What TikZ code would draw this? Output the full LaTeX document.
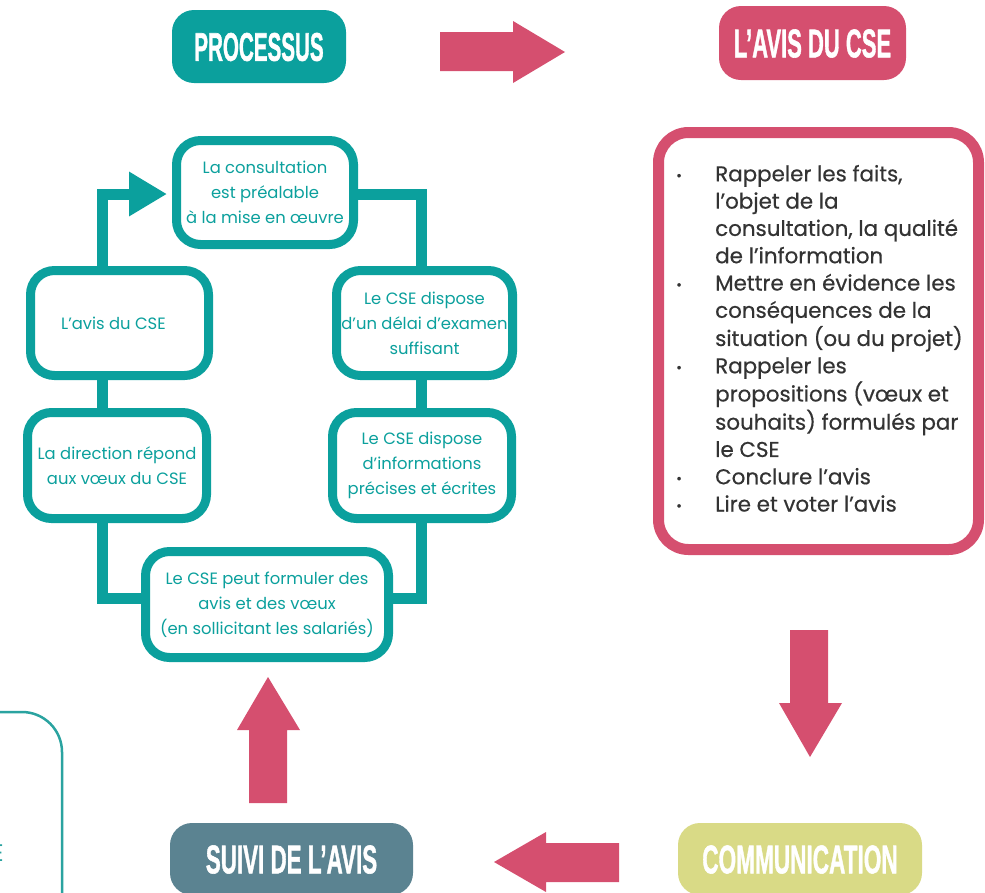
\documentclass[tikz,border=0pt]{standalone}
\usepackage{fontspec}
\setmainfont{Poppins}
\newfontfamily\headfont{Liberation Sans}[BoldFeatures={FakeBold=1.5}]
\newfontfamily\listfont{Poppins}[FakeBold=0.5]
\usepackage{graphicx}
\usetikzlibrary{arrows.meta,calc,backgrounds}
\definecolor{tealc}{HTML}{0BA09D}
\definecolor{pinkc}{HTML}{D54F6F}
\definecolor{slatec}{HTML}{5B8391}
\definecolor{limec}{HTML}{D9DA86}
\definecolor{darkg}{HTML}{333333}
\definecolor{thinteal}{HTML}{2AA3A0}
\newcommand{\hx}[2]{\scalebox{#1}[1]{#2}}
\newcommand{\bul}{\raisebox{1pt}{\scalebox{0.65}{\textbullet}}}
\tikzset{
  cyc/.style={draw=tealc, line width=9pt, fill=white, rounded corners=24pt,
    align=center, text=tealc, font=\fontsize{16.4}{25}\selectfont, inner sep=0pt},
  conn/.style={draw=tealc, line width=11pt},
  head/.style={rounded corners=22pt, inner sep=0pt, text=white,
    font=\headfont\bfseries\fontsize{40}{40}\selectfont, text height=28.6pt, text depth=0pt},
  blockarrow/.style={fill=pinkc, draw=none}
}
\begin{document}
\begin{tikzpicture}[x=1pt,y=-1pt]
\useasboundingbox (0,0) rectangle (985,892);
\clip (0,0) rectangle (985,892);
% headings
\node[head, fill=tealc, minimum width=174pt, minimum height=73pt] (proc) at (259,46.5) {\hx{0.515}{PROCESSUS}};
\node[head, fill=pinkc, minimum width=187pt, minimum height=74pt] (avis) at (812.5,43) {\hx{0.55}{L’AVIS DU CSE}};
\node[head, fill=limec, minimum width=244pt, minimum height=72pt] (comm) at (800,859) {\hx{0.565}{COMMUNICATION}};
\node[head, fill=slatec, minimum width=243pt, minimum height=72pt] (suivi) at (291.5,859) {\hx{0.56}{SUIVI DE L’AVIS}};
% block arrows
\fill[blockarrow] (440,32) -- (513,32) -- (513,21) -- (565,52) -- (513,83) -- (513,71) -- (440,71) -- cycle;
\fill[blockarrow] (790,630) -- (828,630) -- (828,703) -- (842,703) -- (810,757) -- (779,703) -- (790,703) -- cycle;
\fill[blockarrow] (249,803) -- (287,803) -- (287,730) -- (300,730) -- (268,677) -- (237,730) -- (249,730) -- cycle;
\fill[blockarrow] (619,843) -- (546,843) -- (546,832) -- (494,862) -- (546,892) -- (546,882) -- (619,882) -- cycle;
% pink box
\node[draw=pinkc, line width=11pt, rounded corners=30pt, minimum width=320pt, minimum height=417pt, inner sep=0pt] (avisbox) at (818.5,341) {};
\node[anchor=north west, inner sep=0pt, text=darkg, font=\listfont\fontsize{21.4}{27.3}\selectfont] (list) at (676,162) {%
\begin{tabular}{@{}p{39pt}@{}l@{}}
\bul & Rappeler les faits,\\
 & l’objet de la\\
 & consultation, la qualité\\
 & de l’information\\
\bul & Mettre en évidence les\\
 & conséquences de la\\
 & situation (ou du projet)\\
\bul & Rappeler les\\
 & propositions (vœux et\\
 & souhaits) formulés par\\
 & le CSE\\
\bul & Conclure l’avis\\
\bul & Lire et voter l’avis
\end{tabular}};
% cycle
\coordinate (lx) at (102,0);
\coordinate (rx) at (421,0);
\node[cyc, minimum width=177pt, minimum height=104pt] (top) at (265,192.5) {La consultation\\est préalable\\à la mise en œuvre};
\node[cyc, minimum width=178pt, minimum height=105pt] (lbox) at (119.5,323) {\hspace*{-12pt}L’avis du CSE};
\node[cyc, minimum width=176pt, minimum height=105pt] (rbox) at (424.5,323) {Le CSE dispose\\d’un délai d’examen\\suffisant};
\node[cyc, minimum width=179pt, minimum height=106pt] (dir) at (117,465.5) {La direction répond\\aux vœux du CSE};
\node[cyc, minimum width=179pt, minimum height=106pt] (info) at (422,465.5) {Le CSE dispose\\d’informations\\précises et écrites};
\node[cyc, minimum width=243pt, minimum height=106pt] (bot) at (267,604.5) {Le CSE peut formuler des\\avis et des vœux\\(en sollicitant les salariés)};
\begin{pgfonlayer}{background}
\draw[conn, -{Triangle[length=38pt,width=42pt]}] (lx |- lbox.north) |- ($(top.west)+(-5,1.5)$);
\draw[conn] ($(top.east)+(-5,1.5)$) -| (rx |- rbox.north);
\draw[conn] (lx |- lbox.south) -- (lx |- dir.north);
\draw[conn] (rx |- rbox.south) -- (rx |- info.north);
\draw[conn] (lx |- dir.south) |- ($(bot.west)+(0,-6.5)$);
\draw[conn] (rx |- info.south) |- ($(bot.east)+(0,-6.5)$);
\end{pgfonlayer}
% partial box bottom-left
\draw[thinteal, line width=2.5pt, rounded corners=40pt] (-20,712) -- (62,712) -- (62,920);
\node[anchor=east, inner sep=0pt, text=thinteal, font=\fontsize{24}{24}\selectfont] (frag) at (4,853) {E};
\end{tikzpicture}
\end{document}
